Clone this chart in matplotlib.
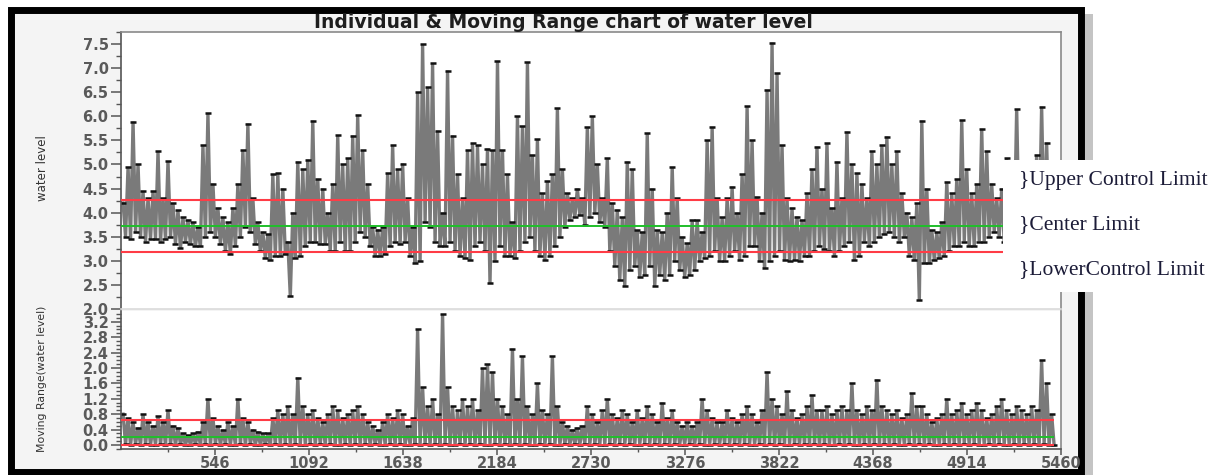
import numpy as np
import matplotlib
matplotlib.use("Agg")
import matplotlib.pyplot as plt
from matplotlib.patches import Rectangle
from matplotlib.ticker import MultipleLocator, FixedLocator

water_hi = [
    4.2, 4.95, 5.89, 5.0, 4.45, 4.3, 4.45, 5.27, 4.3, 5.07,
    4.2, 4.05, 3.9, 3.85, 3.8, 3.7, 5.4, 6.06, 4.6, 4.1,
    3.9, 3.8, 4.1, 4.6, 5.3, 5.85, 4.3, 3.8, 3.6, 3.55,
    4.8, 4.82, 4.5, 3.4, 4.0, 5.06, 4.9, 5.1, 5.91, 4.7,
    4.5, 4.0, 4.6, 5.61, 5.0, 5.13, 5.6, 6.03, 5.3, 4.6,
    3.7, 3.65, 3.7, 4.82, 5.4, 4.9, 5.02, 4.3, 3.7, 6.5,
    7.5, 6.6, 7.1, 5.7, 4.0, 6.95, 5.6, 4.8, 4.3, 5.3,
    5.44, 5.4, 5.0, 5.33, 5.3, 7.15, 5.3, 4.8, 3.8, 6.0,
    5.8, 7.12, 5.2, 5.52, 4.4, 4.66, 4.8, 6.17, 4.9, 4.4,
    4.3, 4.5, 4.3, 5.78, 6.0, 5.0, 4.3, 5.13, 4.2, 4.06,
    3.9, 5.06, 4.9, 3.64, 3.6, 5.65, 4.5, 3.64, 3.6, 4.0,
    4.95, 4.3, 3.5, 3.36, 3.85, 3.85, 3.6, 5.5, 5.78, 4.3,
    3.9, 4.3, 4.54, 4.0, 4.8, 6.21, 5.5, 4.33, 4.0, 6.55,
    7.53, 6.89, 5.4, 4.3, 4.1, 3.92, 3.85, 4.4, 4.9, 5.37,
    4.5, 5.44, 4.1, 5.06, 4.3, 5.68, 5.0, 4.82, 4.6, 4.3,
    5.27, 5.0, 5.4, 5.58, 5.0, 5.27, 4.4, 4.0, 3.9, 4.2,
    5.91, 4.5, 3.64, 3.6, 3.8, 4.64, 4.4, 4.7, 5.92, 4.9,
    4.4, 4.6, 5.74, 5.27, 4.6, 4.3, 4.5, 5.13, 4.7, 6.15,
    4.9, 4.4, 4.8, 5.2, 6.2, 5.45, 4.6,
]
water_lo = [
    3.5, 3.45, 3.6, 3.5, 3.4, 3.45, 3.45, 3.4, 3.45, 3.5,
    3.35, 3.26, 3.4, 3.35, 3.3, 3.3, 3.5, 3.6, 3.5, 3.35,
    3.2, 3.14, 3.3, 3.5, 3.7, 3.6, 3.35, 3.2, 3.05, 3.02,
    3.1, 3.1, 3.15, 2.26, 3.05, 3.1, 3.3, 3.4, 3.4, 3.35,
    3.35, 3.2, 3.2, 3.4, 3.2, 3.2, 3.4, 3.6, 3.5, 3.3,
    3.1, 3.09, 3.15, 3.3, 3.4, 3.35, 3.4, 3.1, 2.95, 3.0,
    3.8, 3.7, 3.4, 3.3, 3.3, 3.4, 3.2, 3.1, 3.05, 3.02,
    3.3, 3.4, 3.2, 2.53, 3.0, 3.3, 3.1, 3.1, 3.05, 3.2,
    3.4, 3.5, 3.2, 3.1, 3.02, 3.1, 3.3, 3.5, 3.7, 3.85,
    3.9, 3.95, 3.75, 3.9, 4.0, 3.8, 3.71, 3.2, 2.9, 2.6,
    2.47, 2.8, 2.9, 2.67, 2.7, 2.9, 2.47, 2.7, 2.6, 2.7,
    3.0, 2.8, 2.67, 2.7, 2.8, 3.0, 3.05, 3.1, 3.2, 3.0,
    3.0, 3.1, 3.2, 3.02, 3.1, 3.3, 3.3, 3.0, 2.85, 3.0,
    3.1, 3.2, 3.02, 3.0, 3.02, 3.0, 3.1, 3.1, 3.2, 3.3,
    3.25, 3.2, 3.1, 3.2, 3.3, 3.4, 3.02, 3.1, 3.4, 3.3,
    3.4, 3.5, 3.55, 3.6, 3.5, 3.4, 3.5, 3.1, 3.02, 2.19,
    2.95, 2.95, 3.02, 3.05, 3.1, 3.2, 3.3, 3.3, 3.4, 3.3,
    3.3, 3.4, 3.4, 3.5, 3.6, 3.5, 3.4, 3.3, 3.4, 3.5,
    3.4, 3.3, 3.4, 3.5, 3.6, 3.5, 3.4,
]
mr_hi = [
    0.8, 0.7, 0.6, 0.45, 0.8, 0.6, 0.5, 0.75, 0.6, 0.9,
    0.5, 0.45, 0.3, 0.25, 0.3, 0.35, 0.6, 1.2, 0.7, 0.5,
    0.4, 0.6, 0.5, 1.2, 0.7, 0.6, 0.4, 0.35, 0.3, 0.3,
    0.7, 0.9, 0.8, 1.0, 0.8, 1.75, 1.0, 0.8, 0.9, 0.7,
    0.6, 0.8, 1.0, 0.9, 0.7, 0.8, 0.9, 1.0, 0.8, 0.6,
    0.5, 0.4, 0.6, 0.8, 0.7, 0.9, 0.8, 0.5, 0.7, 3.0,
    1.5, 1.0, 1.2, 0.8, 3.4, 1.5, 1.0, 0.9, 1.2, 1.0,
    1.2, 0.9, 2.0, 2.1, 1.9, 1.2, 1.0, 0.8, 2.5, 1.2,
    2.3, 1.0, 0.8, 1.6, 0.9, 0.8, 2.3, 1.0, 0.6, 0.5,
    0.4, 0.45, 0.5, 1.0, 0.8, 0.6, 0.9, 1.2, 0.8, 0.7,
    0.9, 0.8, 0.6, 0.9, 0.7, 1.0, 0.8, 0.6, 1.1, 0.7,
    0.9, 0.6, 0.5, 0.6, 0.5, 0.6, 1.2, 0.9, 0.7, 0.6,
    0.6, 0.9, 0.7, 0.6, 0.8, 1.0, 0.8, 0.6, 0.9, 1.9,
    1.2, 1.0, 0.8, 1.4, 0.9, 0.7, 0.8, 1.0, 1.3, 0.9,
    0.9, 1.0, 0.8, 0.9, 1.0, 0.9, 1.6, 0.9, 0.8, 1.0,
    0.9, 1.7, 1.0, 0.9, 0.8, 0.9, 0.7, 0.8, 1.35, 1.0,
    1.0, 0.8, 0.6, 0.7, 0.8, 1.2, 0.8, 0.9, 1.1, 0.8,
    0.9, 1.1, 0.9, 0.7, 0.8, 1.0, 1.2, 0.9, 0.8, 1.0,
    0.9, 0.8, 1.0, 0.9, 2.2, 1.6, 0.8,
]
mr_lo = [
    0.02, 0.0, 0.03, 0.0, 0.02, 0.0, 0.0, 0.02, 0.0, 0.03,
    0.0, 0.02, 0.0, 0.0, 0.02, 0.0, 0.02, 0.0, 0.03, 0.0,
    0.02, 0.0, 0.0, 0.02, 0.0, 0.03, 0.0, 0.0, 0.02, 0.0,
    0.02, 0.0, 0.03, 0.0, 0.02, 0.0, 0.0, 0.02, 0.0, 0.03,
    0.0, 0.02, 0.0, 0.0, 0.02, 0.0, 0.02, 0.0, 0.03, 0.0,
    0.02, 0.0, 0.0, 0.02, 0.0, 0.03, 0.0, 0.0, 0.02, 0.0,
    0.02, 0.0, 0.03, 0.0, 0.02, 0.0, 0.0, 0.02, 0.0, 0.03,
    0.0, 0.02, 0.0, 0.0, 0.02, 0.0, 0.02, 0.0, 0.03, 0.0,
    0.02, 0.0, 0.0, 0.02, 0.0, 0.03, 0.0, 0.0, 0.02, 0.0,
    0.02, 0.0, 0.03, 0.0, 0.02, 0.0, 0.0, 0.02, 0.0, 0.03,
    0.0, 0.02, 0.0, 0.0, 0.02, 0.0, 0.02, 0.0, 0.03, 0.0,
    0.02, 0.0, 0.0, 0.02, 0.0, 0.03, 0.0, 0.0, 0.02, 0.0,
    0.02, 0.0, 0.03, 0.0, 0.02, 0.0, 0.0, 0.02, 0.0, 0.03,
    0.0, 0.02, 0.0, 0.0, 0.02, 0.0, 0.02, 0.0, 0.03, 0.0,
    0.02, 0.0, 0.0, 0.02, 0.0, 0.03, 0.0, 0.0, 0.02, 0.0,
    0.02, 0.0, 0.03, 0.0, 0.02, 0.0, 0.0, 0.02, 0.0, 0.03,
    0.0, 0.02, 0.0, 0.0, 0.02, 0.0, 0.02, 0.0, 0.03, 0.0,
    0.02, 0.0, 0.0, 0.02, 0.0, 0.03, 0.0, 0.0, 0.02, 0.0,
    0.02, 0.0, 0.03, 0.0, 0.02, 0.0, 0.0,
]

i_ucl, i_cl, i_lcl = 4.26, 3.72, 3.18
mr_ucl, mr_cl, mr_lcl = 0.66, 0.20, 0.0
x_ticks = [546, 1092, 1638, 2184, 2730, 3276, 3822, 4368, 4914, 5460]
n_obs_last = 5420

title = "Individual & Moving Range chart of water level"
labels_right = ["}Upper Control Limit", "}Center Limit", "}LowerControl Limit"]

# ---------------- figure ----------------
W, H = 1218, 475
fig = plt.figure(figsize=(W / 100, H / 100), dpi=100)
fig.patch.set_facecolor("white")

def fx(px):
    return px / W

def fy(py):
    return 1 - py / H

# shadow + black frame
fig.add_artist(Rectangle((fx(1085), fy(475)), fx(8), 461 / H, transform=fig.transFigure,
                         fc="#c4c4c4", ec="none", zorder=-3))
fig.add_artist(Rectangle((fx(11), fy(472)), (1081 - 11) / W, (472 - 9.6) / H,
                         transform=fig.transFigure, fc="#f4f4f4", ec="black", lw=5.0, zorder=-2))

ax1 = fig.add_axes([fx(121), fy(309), 940 / W, (309 - 32) / H])
ax2 = fig.add_axes([fx(121), fy(449), 940 / W, (449 - 311) / H])


def zigzag(hi, lo):
    vals = np.empty(2 * len(hi))
    vals[0::2] = hi
    vals[1::2] = lo
    return vals


obs = np.linspace(12, n_obs_last, 2 * len(water_hi))
ind = zigzag(water_hi, water_lo)
mr = zigzag(mr_hi, mr_lo)

line_kw = dict(color="#7a7a7a", lw=2.4, marker="_", ms=5, mec="#111111", mew=1.8,
               zorder=2, solid_joinstyle="miter")
ax1.plot(obs, ind, **line_kw)
ax2.plot(obs, mr, **line_kw)

for ax, (u, c, l) in ((ax1, (i_ucl, i_cl, i_lcl)), (ax2, (mr_ucl, mr_cl, mr_lcl))):
    ax.hlines([u, l], 0, n_obs_last, colors="#ff3c46", lw=1.5, zorder=3)
    ax.hlines([c], 0, n_obs_last, colors="#1fbf2a", lw=1.4, zorder=3)
    ax.set_xlim(0, 5460)
    ax.set_facecolor("white")

ax1.set_ylim(2.0, 7.75)
ax2.set_ylim(-0.104, 3.48)

ax1.yaxis.set_major_locator(FixedLocator(np.arange(2.0, 7.51, 0.5)))
ax1.yaxis.set_minor_locator(MultipleLocator(0.25))
ax1.set_yticklabels([f"{v:.1f}" for v in np.arange(2.0, 7.51, 0.5)])
ax2.yaxis.set_major_locator(FixedLocator(np.arange(0.0, 3.21, 0.4)))
ax2.yaxis.set_minor_locator(MultipleLocator(0.1))
ax2.set_yticklabels([f"{v:.1f}" for v in np.arange(0.0, 3.21, 0.4)])

ax1.tick_params(axis="x", which="both", bottom=False, labelbottom=False)
ax2.xaxis.set_major_locator(FixedLocator(x_ticks))
ax2.xaxis.set_minor_locator(FixedLocator([t - 273 for t in x_ticks]))
ax2.set_xticklabels([str(t) for t in x_ticks])

for ax in (ax1, ax2):
    ax.tick_params(axis="y", which="major", direction="out", length=7, width=1.1,
                   color="#555555", labelcolor="#5a5a5a", labelsize=10.5, pad=2)
    ax.tick_params(axis="y", which="minor", direction="out", length=3.5, width=1.0,
                   color="#555555")
    for lab in ax.get_xticklabels() + ax.get_yticklabels():
        lab.set_fontweight("bold")
ax2.tick_params(axis="x", which="major", direction="out", length=4, width=1.1,
                color="#555555", labelcolor="#5a5a5a", labelsize=10.5, pad=1)
ax2.tick_params(axis="x", which="minor", direction="out", length=2.5, width=1.0,
                color="#555555")

ax1.spines["left"].set_color("#555555")
ax1.spines["top"].set_color("#8a8a8a")
ax1.spines["right"].set_color("#8a8a8a")
ax1.spines["bottom"].set_color("#dadada")
ax2.spines["left"].set_color("#555555")
ax2.spines["bottom"].set_color("#555555")
ax2.spines["right"].set_color("#8a8a8a")
ax2.spines["top"].set_visible(False)
for ax in (ax1, ax2):
    for s in ax.spines.values():
        s.set_linewidth(1.2)

fig.text(fx(563), fy(27.5), title, ha="center", va="baseline", fontsize=13.5,
         fontweight="bold", color="#1e1e1e")
fig.text(fx(42), fy(168), "water level", rotation=90, ha="center", va="center",
         fontsize=8.5, color="#333333")
fig.text(fx(42), fy(379), "Moving Range(water level)", rotation=90, ha="center",
         va="center", fontsize=7.8, color="#333333")

# white annotation box with labels
fig.add_artist(Rectangle((fx(1003), fy(292)), (W - 1003) / W, (292 - 160) / H,
                         transform=fig.transFigure, fc="white", ec="none", zorder=5))
for txt, ypx in zip(labels_right, (181, 225, 270)):
    fig.text(fx(1019), fy(ypx), txt, ha="left", va="center", fontsize=15.5,
             family="Liberation Serif", color="#1c1c38", zorder=6)

fig.savefig("out.png", dpi=100)
